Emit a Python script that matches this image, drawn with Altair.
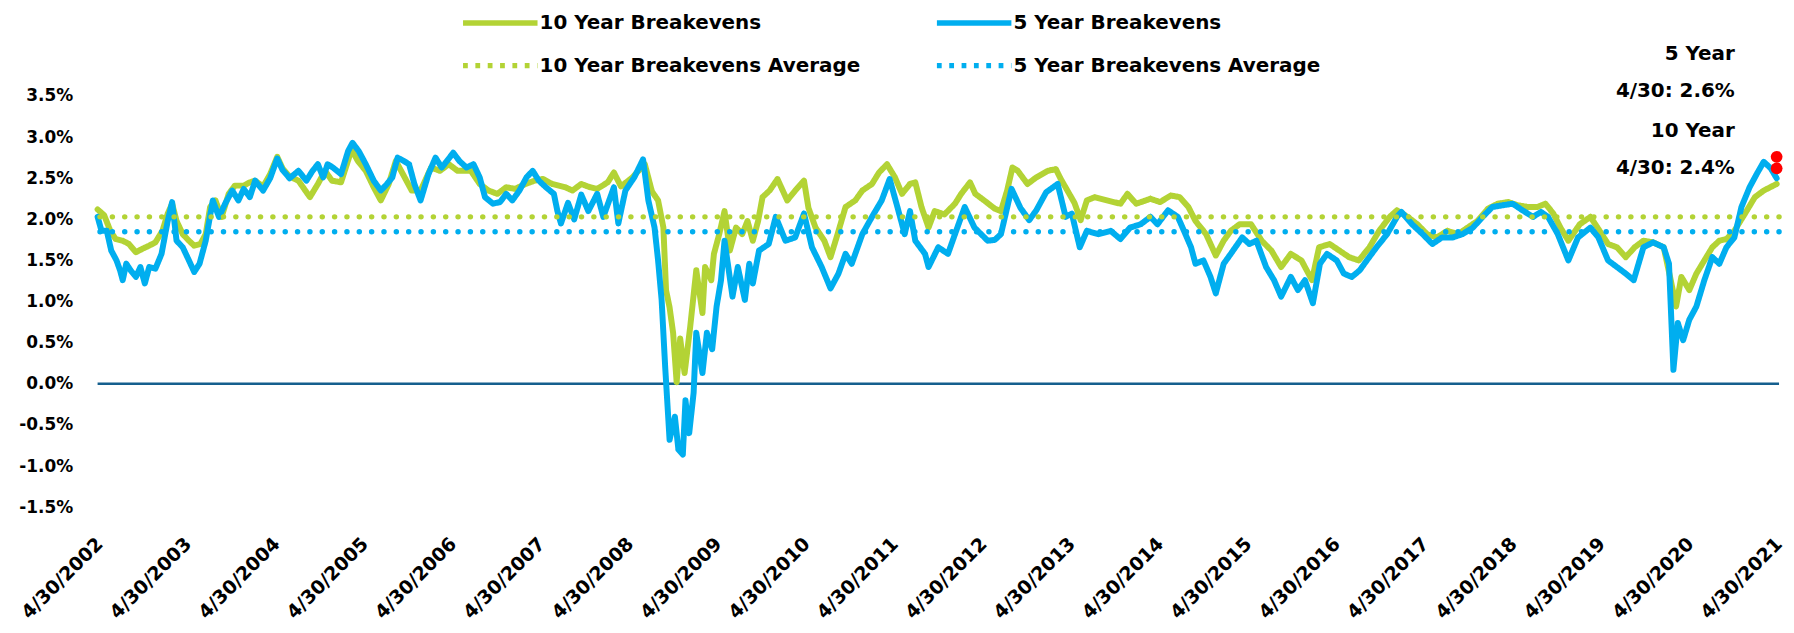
import altair as alt
import pandas as pd

# ---- values (decimal year, percent) ----
ten_year_t = [2002.326, 2002.40, 2002.47, 2002.53, 2002.61, 2002.68, 2002.76, 2002.83, 2002.91, 2002.98,
              2003.06, 2003.12, 2003.17, 2003.22, 2003.29, 2003.36, 2003.42, 2003.49, 2003.55, 2003.60,
              2003.66, 2003.73, 2003.81, 2003.88, 2003.98, 2004.05, 2004.11, 2004.20, 2004.28, 2004.36,
              2004.42, 2004.50, 2004.60, 2004.73, 2004.82, 2004.90, 2004.98, 2005.08, 2005.20, 2005.27,
              2005.36, 2005.45, 2005.53, 2005.62, 2005.70, 2005.80, 2005.88, 2005.98, 2006.10, 2006.20,
              2006.30, 2006.40, 2006.55, 2006.65, 2006.75, 2006.85, 2006.95, 2007.05, 2007.17, 2007.27,
              2007.37, 2007.47, 2007.62, 2007.70, 2007.80, 2007.90, 2007.98, 2008.10, 2008.17, 2008.25,
              2008.38, 2008.43, 2008.52, 2008.60, 2008.67, 2008.73, 2008.76, 2008.80, 2008.84, 2008.88,
              2008.92, 2008.97, 2009.03, 2009.10, 2009.17, 2009.20, 2009.27, 2009.30, 2009.36, 2009.42,
              2009.48, 2009.55, 2009.62, 2009.68, 2009.74, 2009.80, 2009.85, 2009.93, 2010.02, 2010.13,
              2010.22, 2010.32, 2010.37, 2010.45, 2010.55, 2010.62, 2010.70, 2010.79, 2010.90, 2010.98,
              2011.09, 2011.17, 2011.26, 2011.35, 2011.43, 2011.52, 2011.58, 2011.65, 2011.73, 2011.80,
              2011.91, 2012.03, 2012.10, 2012.20, 2012.26, 2012.36, 2012.48, 2012.55, 2012.62, 2012.68,
              2012.74, 2012.85, 2012.95, 2013.08, 2013.17, 2013.22, 2013.30, 2013.38, 2013.45, 2013.52,
              2013.61, 2013.75, 2013.90, 2013.98, 2014.08, 2014.24, 2014.35, 2014.47, 2014.57, 2014.67,
              2014.75, 2014.87, 2014.98, 2015.07, 2015.15, 2015.25, 2015.38, 2015.50, 2015.61, 2015.72,
              2015.83, 2015.95, 2016.07, 2016.15, 2016.27, 2016.38, 2016.49, 2016.60, 2016.72, 2016.83,
              2016.95, 2017.03, 2017.15, 2017.26, 2017.37, 2017.48, 2017.60, 2017.72, 2017.83, 2017.94,
              2018.06, 2018.17, 2018.29, 2018.40, 2018.51, 2018.62, 2018.71, 2018.80, 2018.88, 2018.97,
              2019.10, 2019.22, 2019.30, 2019.42, 2019.52, 2019.62, 2019.72, 2019.82, 2019.93, 2020.05,
              2020.13, 2020.19, 2020.25, 2020.34, 2020.42, 2020.51, 2020.60, 2020.68, 2020.76, 2020.85,
              2020.97, 2021.08, 2021.18, 2021.326]
ten_year_v = [2.12, 2.05, 1.86, 1.76, 1.74, 1.70, 1.60, 1.64, 1.68, 1.72,
              1.86, 2.07, 2.19, 1.98, 1.82, 1.74, 1.68, 1.70, 1.82, 2.15,
              2.23, 2.03, 2.31, 2.41, 2.41, 2.45, 2.47, 2.40, 2.55, 2.76,
              2.62, 2.52, 2.47, 2.27, 2.43, 2.59, 2.47, 2.45, 2.85, 2.71,
              2.59, 2.39, 2.23, 2.43, 2.71, 2.51, 2.35, 2.35, 2.63, 2.59,
              2.67, 2.59, 2.59, 2.43, 2.35, 2.31, 2.39, 2.37, 2.43, 2.47,
              2.49, 2.43, 2.39, 2.35, 2.43, 2.39, 2.37, 2.45, 2.57, 2.40,
              2.51, 2.57, 2.67, 2.34, 2.23, 1.90, 1.14, 0.93, 0.62, 0.02,
              0.55, 0.13, 0.68, 1.38, 0.86, 1.42, 1.26, 1.58, 1.82, 2.10,
              1.62, 1.90, 1.82, 1.98, 1.74, 1.98, 2.27, 2.35, 2.49, 2.23,
              2.35, 2.47, 2.14, 1.90, 1.74, 1.54, 1.82, 2.15, 2.23, 2.35,
              2.43, 2.57, 2.67, 2.51, 2.31, 2.43, 2.45, 2.15, 1.90, 2.10,
              2.06, 2.19, 2.31, 2.45, 2.31, 2.23, 2.13, 2.10, 2.35, 2.63,
              2.59, 2.43, 2.51, 2.59, 2.61, 2.50, 2.35, 2.20, 1.99, 2.23,
              2.27, 2.23, 2.19, 2.31, 2.19, 2.25, 2.21, 2.29, 2.27, 2.15,
              1.98, 1.82, 1.56, 1.74, 1.86, 1.94, 1.94, 1.74, 1.62, 1.42,
              1.58, 1.50, 1.26, 1.66, 1.70, 1.62, 1.54, 1.50, 1.66, 1.86,
              2.03, 2.11, 2.03, 1.94, 1.82, 1.78, 1.86, 1.82, 1.90, 1.98,
              2.13, 2.19, 2.21, 2.17, 2.15, 2.15, 2.19, 2.07, 1.90, 1.74,
              1.94, 2.03, 1.90, 1.70, 1.66, 1.54, 1.66, 1.74, 1.72, 1.66,
              1.26, 0.94, 1.30, 1.14, 1.34, 1.50, 1.66, 1.74, 1.76, 1.86,
              2.07, 2.27, 2.35, 2.43]

five_year_t = [2002.326, 2002.37, 2002.43, 2002.48, 2002.54, 2002.58, 2002.61, 2002.65, 2002.70, 2002.76,
               2002.81, 2002.86, 2002.91, 2002.98, 2003.05, 2003.12, 2003.17, 2003.22, 2003.29, 2003.36,
               2003.42, 2003.48, 2003.55, 2003.63, 2003.70, 2003.77, 2003.85, 2003.92, 2003.98, 2004.05,
               2004.11, 2004.20, 2004.28, 2004.36, 2004.42, 2004.50, 2004.60, 2004.69, 2004.76, 2004.82,
               2004.88, 2004.93, 2004.99, 2005.08, 2005.16, 2005.21, 2005.28, 2005.36, 2005.45, 2005.53,
               2005.60, 2005.66, 2005.72, 2005.79, 2005.85, 2005.91, 2005.98, 2006.07, 2006.15, 2006.22,
               2006.28, 2006.35, 2006.42, 2006.50, 2006.58, 2006.65, 2006.71, 2006.80, 2006.88, 2006.95,
               2007.02, 2007.10, 2007.18, 2007.25, 2007.32, 2007.40, 2007.49, 2007.53, 2007.57, 2007.65,
               2007.72, 2007.80, 2007.88, 2007.98, 2008.05, 2008.17, 2008.22, 2008.30, 2008.40, 2008.50,
               2008.56, 2008.63, 2008.67, 2008.71, 2008.75, 2008.80, 2008.86, 2008.90, 2008.95, 2008.98,
               2009.02, 2009.07, 2009.10, 2009.17, 2009.22, 2009.28, 2009.33, 2009.38, 2009.42, 2009.51,
               2009.57, 2009.65, 2009.70, 2009.74, 2009.81, 2009.92, 2010.00, 2010.11, 2010.22, 2010.32,
               2010.41, 2010.52, 2010.62, 2010.71, 2010.79, 2010.86, 2010.98, 2011.09, 2011.20, 2011.29,
               2011.38, 2011.46, 2011.52, 2011.58, 2011.69, 2011.73, 2011.84, 2011.95, 2012.03, 2012.14,
               2012.25, 2012.40, 2012.48, 2012.55, 2012.67, 2012.77, 2012.87, 2012.95, 2013.06, 2013.19,
               2013.28, 2013.35, 2013.44, 2013.52, 2013.65, 2013.79, 2013.90, 2014.01, 2014.13, 2014.24,
               2014.32, 2014.44, 2014.55, 2014.62, 2014.70, 2014.75, 2014.84, 2014.92, 2014.98, 2015.07,
               2015.15, 2015.28, 2015.36, 2015.44, 2015.55, 2015.64, 2015.72, 2015.83, 2015.91, 2015.99,
               2016.08, 2016.16, 2016.24, 2016.35, 2016.43, 2016.52, 2016.61, 2016.69, 2016.80, 2016.92,
               2017.03, 2017.08, 2017.20, 2017.32, 2017.43, 2017.54, 2017.66, 2017.77, 2017.89, 2018.00,
               2018.11, 2018.22, 2018.34, 2018.45, 2018.57, 2018.66, 2018.74, 2018.85, 2018.97, 2019.08,
               2019.22, 2019.31, 2019.42, 2019.52, 2019.62, 2019.71, 2019.82, 2019.93, 2020.05, 2020.11,
               2020.16, 2020.21, 2020.27, 2020.34, 2020.42, 2020.51, 2020.60, 2020.68, 2020.76, 2020.85,
               2020.93, 2021.02, 2021.10, 2021.18, 2021.26, 2021.326]
five_year_v = [2.03, 1.86, 1.86, 1.62, 1.50, 1.38, 1.26, 1.46, 1.38, 1.30,
               1.42, 1.22, 1.42, 1.40, 1.58, 1.98, 2.21, 1.74, 1.66, 1.50,
               1.36, 1.46, 1.74, 2.23, 2.03, 2.19, 2.35, 2.23, 2.37, 2.27,
               2.47, 2.35, 2.50, 2.74, 2.60, 2.50, 2.59, 2.47, 2.59, 2.67,
               2.51, 2.67, 2.63, 2.55, 2.83, 2.93, 2.83, 2.67, 2.47, 2.35,
               2.43, 2.51, 2.75, 2.71, 2.67, 2.43, 2.23, 2.55, 2.75, 2.63,
               2.71, 2.81, 2.71, 2.63, 2.67, 2.51, 2.27, 2.19, 2.21, 2.31,
               2.23, 2.35, 2.51, 2.59, 2.47, 2.39, 2.31, 2.10, 1.95, 2.20,
               2.00, 2.30, 2.10, 2.31, 2.03, 2.39, 1.95, 2.35, 2.51, 2.73,
               2.23, 1.90, 1.50, 1.02, 0.21, -0.68, -0.40, -0.80, -0.86, -0.20,
               -0.60, -0.11, 0.62, 0.13, 0.62, 0.42, 0.94, 1.26, 1.74, 1.06,
               1.42, 1.02, 1.46, 1.22, 1.62, 1.70, 2.03, 1.74, 1.78, 2.07,
               1.66, 1.42, 1.16, 1.34, 1.58, 1.46, 1.82, 2.03, 2.23, 2.49,
               2.14, 1.82, 2.10, 1.74, 1.58, 1.42, 1.66, 1.58, 1.82, 2.15,
               1.90, 1.74, 1.75, 1.82, 2.37, 2.14, 1.99, 2.11, 2.33, 2.43,
               2.03, 2.07, 1.66, 1.86, 1.82, 1.86, 1.76, 1.90, 1.94, 2.03,
               1.94, 2.11, 2.03, 1.86, 1.66, 1.46, 1.50, 1.30, 1.10, 1.46,
               1.58, 1.78, 1.70, 1.74, 1.42, 1.26, 1.06, 1.30, 1.14, 1.26,
               0.98, 1.46, 1.58, 1.50, 1.34, 1.30, 1.38, 1.50, 1.66, 1.82,
               2.03, 2.09, 1.94, 1.82, 1.70, 1.78, 1.78, 1.82, 1.90, 2.03,
               2.15, 2.17, 2.19, 2.11, 2.03, 2.09, 2.03, 1.82, 1.50, 1.78,
               1.90, 1.78, 1.50, 1.42, 1.34, 1.26, 1.66, 1.72, 1.66, 1.46,
               0.17, 0.74, 0.53, 0.78, 0.94, 1.26, 1.54, 1.46, 1.66, 1.78,
               2.15, 2.39, 2.55, 2.70, 2.62, 2.50]

ten_year_average = 2.03
five_year_average = 1.85

series_names = ["10 Year Breakevens", "5 Year Breakevens",
                "10 Year Breakevens Average", "5 Year Breakevens Average"]
tick_years = list(range(2002, 2022))

marker_values = [2.62, 2.76]
note_labels = ["5 Year", "4/30: 2.6%", "10 Year", "4/30: 2.4%"]
note_levels = [4.01, 3.56, 3.08, 2.63]

GREEN = "#B3D335"
BLUE = "#00AEEF"
ZERO = "#155F8E"
FONT = "DejaVu Sans"


def to_iso(y):
    yr = int(y)
    ts = pd.Timestamp(yr, 1, 1) + pd.Timedelta(days=(y - yr) * 365.25)
    return ts.strftime("%Y-%m-%dT%H:%M:%S")


df10 = pd.DataFrame({"t": [to_iso(y) for y in ten_year_t], "v": ten_year_v, "series": series_names[0]})
df5 = pd.DataFrame({"t": [to_iso(y) for y in five_year_t], "v": five_year_v, "series": series_names[1]})
avg_df = pd.DataFrame({"v": [ten_year_average, five_year_average], "series": series_names[2:]})
zero_df = pd.DataFrame({"v": [0.0]})
end_iso = to_iso(ten_year_t[-1])
dots_df = pd.DataFrame({"t": [end_iso] * len(marker_values), "v": marker_values})
notes_df = pd.DataFrame({"t": [end_iso] * len(note_labels), "v": note_levels, "label": note_labels})

xscale = alt.Scale(domain=[alt.DateTime(year=2002, month=4, date=30),
                           alt.DateTime(year=2021, month=5, date=10)])
yscale = alt.Scale(domain=[-1.5, 3.5], nice=False, zero=False)

xaxis = alt.Axis(values=[alt.DateTime(year=y, month=4, date=30) for y in tick_years],
                 format="%-m/%-d/%Y", labelAngle=-45, labelAlign="right", labelBaseline="top",
                 labelFont=FONT, labelFontSize=19, labelFontWeight="bold", labelColor="black",
                 labelPadding=31.5, translate=-4, domain=False, ticks=False, grid=False,
                 title=None, labelOverlap=False, labelFlush=False, labelBound=False)
yaxis = alt.Axis(values=[-1.5 + 0.5 * i for i in range(11)],
                 labelExpr="(datum.value < 0 ? '-' : '') + format(abs(datum.value), '.1f') + '%'",
                 labelFont=FONT, labelFontSize=17, labelFontWeight="bold", labelColor="black",
                 labelPadding=25, domain=False, ticks=False, grid=False, title=None,
                 labelOverlap=False, labelFlush=False)

# wide, flat line symbol: the path spans twice the nominal symbol box
legend = alt.Legend(title=None, orient="none", legendX=383, legendY=-95, direction="horizontal",
                    columns=2, symbolType="M-2,0L2,0", symbolSize=1400, symbolStrokeWidth=5.5,
                    labelFont=FONT, labelFontSize=20, labelFontWeight="bold", labelColor="black",
                    labelLimit=600, labelOffset=18, columnPadding=65, rowPadding=10, padding=0)

color = alt.Color("series:N", scale=alt.Scale(domain=series_names, range=[GREEN, BLUE, GREEN, BLUE]),
                  legend=legend)
# dash patterns used for the legend symbols (solid for series, dotted for averages)
dash = alt.StrokeDash("series:N", scale=alt.Scale(domain=series_names,
                                                  range=[[1, 0], [1, 0], [4.8, 7.6], [4.8, 7.6]]))

X = alt.X("t:T", scale=xscale, axis=xaxis)
Y = alt.Y("v:Q", scale=yscale, axis=yaxis)

zero_rule = alt.Chart(zero_df).mark_rule(color=ZERO, strokeWidth=2.5).encode(y=Y)
line10 = alt.Chart(df10).mark_line(strokeWidth=6, strokeCap="round", strokeJoin="round").encode(
    x=X, y=Y, color=color, strokeDash=dash)
line5 = alt.Chart(df5).mark_line(strokeWidth=6, strokeCap="round", strokeJoin="round").encode(
    x=X, y=Y, color=color, strokeDash=dash)
avg_rules = alt.Chart(avg_df).mark_rule(strokeWidth=5.5, strokeCap="round",
                                        strokeDash=[0.001, 12.4]).encode(y=Y, color=color)
dots = alt.Chart(dots_df).mark_circle(size=140, color="#FF0000", opacity=1).encode(x=X, y=Y)
notes = alt.Chart(notes_df).mark_text(align="right", baseline="middle", dx=-42, font=FONT,
                                      fontSize=20, fontWeight="bold", color="black").encode(
    x=X, y=Y, text="label:N")

chart = alt.layer(zero_rule, line10, line5, avg_rules, dots, notes).properties(
    width=1689, height=413,
    autosize=alt.AutoSizeParams(type="none"),
    padding={"left": 90, "top": 87, "right": 7, "bottom": 117},
    background="white",
).configure_view(stroke=None)

chart.save("out.html", embed_options={"renderer": "svg", "actions": False})
